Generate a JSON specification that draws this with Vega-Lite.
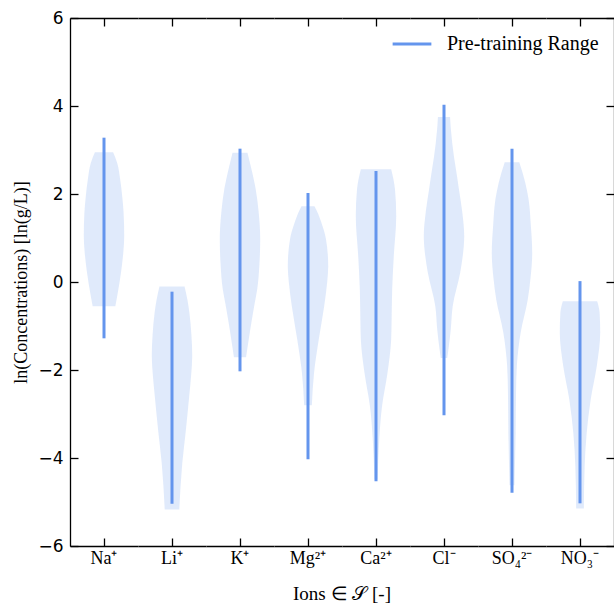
{
  "$schema": "https://vega.github.io/schema/vega-lite/v6.json",
  "padding": {"left": 12, "top": 9, "right": 0, "bottom": 0},
  "background": "white",
  "data": {"values": [
    {"ion": "Na⁺", "v": -0.55, "w": 0.56}, {"ion": "Na⁺", "v": -0.3, "w": 0.66}, {"ion": "Na⁺", "v": 0.28, "w": 0.86}, {"ion": "Na⁺", "v": 0.7, "w": 0.96}, {"ion": "Na⁺", "v": 1.04, "w": 1.0}, {"ion": "Na⁺", "v": 1.57, "w": 0.97}, {"ion": "Na⁺", "v": 1.95, "w": 0.9}, {"ion": "Na⁺", "v": 2.33, "w": 0.8}, {"ion": "Na⁺", "v": 2.71, "w": 0.65}, {"ion": "Na⁺", "v": 2.95, "w": 0.45},
    {"ion": "Li⁺", "v": -5.17, "w": 0.36}, {"ion": "Li⁺", "v": -4.11, "w": 0.51}, {"ion": "Li⁺", "v": -3.35, "w": 0.69}, {"ion": "Li⁺", "v": -2.6, "w": 0.85}, {"ion": "Li⁺", "v": -2.1, "w": 0.95}, {"ion": "Li⁺", "v": -1.69, "w": 1.0}, {"ion": "Li⁺", "v": -1.2, "w": 0.96}, {"ion": "Li⁺", "v": -0.7, "w": 0.86}, {"ion": "Li⁺", "v": -0.4, "w": 0.76}, {"ion": "Li⁺", "v": -0.1, "w": 0.62},
    {"ion": "K⁺", "v": -1.71, "w": 0.3}, {"ion": "K⁺", "v": -1.31, "w": 0.43}, {"ion": "K⁺", "v": -0.93, "w": 0.56}, {"ion": "K⁺", "v": -0.5, "w": 0.72}, {"ion": "K⁺", "v": -0.17, "w": 0.85}, {"ion": "K⁺", "v": 0.4, "w": 0.96}, {"ion": "K⁺", "v": 0.97, "w": 1.0}, {"ion": "K⁺", "v": 1.6, "w": 0.92}, {"ion": "K⁺", "v": 2.1, "w": 0.78}, {"ion": "K⁺", "v": 2.5, "w": 0.6}, {"ion": "K⁺", "v": 2.94, "w": 0.37},
    {"ion": "Mg²⁺", "v": -2.8, "w": 0.19}, {"ion": "Mg²⁺", "v": -2.06, "w": 0.3}, {"ion": "Mg²⁺", "v": -1.31, "w": 0.53}, {"ion": "Mg²⁺", "v": -0.55, "w": 0.8}, {"ion": "Mg²⁺", "v": 0.0, "w": 0.95}, {"ion": "Mg²⁺", "v": 0.36, "w": 1.0}, {"ion": "Mg²⁺", "v": 0.97, "w": 0.89}, {"ion": "Mg²⁺", "v": 1.35, "w": 0.66}, {"ion": "Mg²⁺", "v": 1.55, "w": 0.5}, {"ion": "Mg²⁺", "v": 1.72, "w": 0.32},
    {"ion": "Ca²⁺", "v": -4.49, "w": 0.08}, {"ion": "Ca²⁺", "v": -3.58, "w": 0.16}, {"ion": "Ca²⁺", "v": -2.82, "w": 0.3}, {"ion": "Ca²⁺", "v": -2.06, "w": 0.57}, {"ion": "Ca²⁺", "v": -1.31, "w": 0.75}, {"ion": "Ca²⁺", "v": -0.93, "w": 0.77}, {"ion": "Ca²⁺", "v": -0.17, "w": 0.8}, {"ion": "Ca²⁺", "v": 0.59, "w": 0.88}, {"ion": "Ca²⁺", "v": 1.5, "w": 1.0}, {"ion": "Ca²⁺", "v": 2.1, "w": 0.94}, {"ion": "Ca²⁺", "v": 2.56, "w": 0.75},
    {"ion": "Cl⁻", "v": -1.73, "w": 0.16}, {"ion": "Cl⁻", "v": -1.53, "w": 0.22}, {"ion": "Cl⁻", "v": -1.1, "w": 0.33}, {"ion": "Cl⁻", "v": -0.55, "w": 0.43}, {"ion": "Cl⁻", "v": 0.21, "w": 0.8}, {"ion": "Cl⁻", "v": 0.6, "w": 0.93}, {"ion": "Cl⁻", "v": 1.04, "w": 1.0}, {"ion": "Cl⁻", "v": 1.6, "w": 0.9}, {"ion": "Cl⁻", "v": 2.1, "w": 0.74}, {"ion": "Cl⁻", "v": 2.48, "w": 0.62}, {"ion": "Cl⁻", "v": 2.86, "w": 0.49}, {"ion": "Cl⁻", "v": 3.47, "w": 0.34}, {"ion": "Cl⁻", "v": 3.75, "w": 0.3},
    {"ion": "SO₄²⁻", "v": -4.62, "w": 0.12}, {"ion": "SO₄²⁻", "v": -3.43, "w": 0.18}, {"ion": "SO₄²⁻", "v": -2.5, "w": 0.2}, {"ion": "SO₄²⁻", "v": -1.91, "w": 0.24}, {"ion": "SO₄²⁻", "v": -1.15, "w": 0.43}, {"ion": "SO₄²⁻", "v": -0.4, "w": 0.78}, {"ion": "SO₄²⁻", "v": 0.1, "w": 0.92}, {"ion": "SO₄²⁻", "v": 0.66, "w": 1.0}, {"ion": "SO₄²⁻", "v": 1.3, "w": 0.93}, {"ion": "SO₄²⁻", "v": 1.88, "w": 0.82}, {"ion": "SO₄²⁻", "v": 2.25, "w": 0.66}, {"ion": "SO₄²⁻", "v": 2.72, "w": 0.36},
    {"ion": "NO₃⁻", "v": -5.15, "w": 0.19}, {"ion": "NO₃⁻", "v": -4.19, "w": 0.23}, {"ion": "NO₃⁻", "v": -3.43, "w": 0.33}, {"ion": "NO₃⁻", "v": -2.67, "w": 0.53}, {"ion": "NO₃⁻", "v": -1.91, "w": 0.83}, {"ion": "NO₃⁻", "v": -1.15, "w": 1.0}, {"ion": "NO₃⁻", "v": -0.7, "w": 0.97}, {"ion": "NO₃⁻", "v": -0.44, "w": 0.85},
    {"ion": "Na⁺", "lo": -1.28, "hi": 3.28},
    {"ion": "Li⁺", "lo": -5.04, "hi": -0.22},
    {"ion": "K⁺", "lo": -2.03, "hi": 3.03},
    {"ion": "Mg²⁺", "lo": -4.03, "hi": 2.02},
    {"ion": "Ca²⁺", "lo": -4.53, "hi": 2.52},
    {"ion": "Cl⁻", "lo": -3.03, "hi": 4.03},
    {"ion": "SO₄²⁻", "lo": -4.79, "hi": 3.03},
    {"ion": "NO₃⁻", "lo": -5.03, "hi": 0.02}
  ]},
  "facet": {
    "column": {
      "field": "ion", "type": "nominal",
      "sort": ["Na⁺", "Li⁺", "K⁺", "Mg²⁺", "Ca²⁺", "Cl⁻", "SO₄²⁻", "NO₃⁻"],
      "title": "Ions ∈ 𝒮 [-]",
      "header": {
        "labelOrient": "bottom", "titleOrient": "bottom",
        "labelFont": "Liberation Serif", "labelFontSize": 18, "labelColor": "black", "labelPadding": 3,
        "titleFont": "Liberation Serif", "titleFontSize": 19, "titleFontWeight": "normal", "titleColor": "black", "titlePadding": 7
      }
    }
  },
  "spacing": 0,
  "spec": {
    "width": 68,
    "height": 528,
    "layer": [
      {
        "transform": [{"filter": "isValid(datum.w)"}],
        "mark": {"type": "area", "orient": "horizontal", "fill": "#6495ED", "fillOpacity": 0.2, "interpolate": "monotone"},
        "encoding": {
          "y": {"field": "v", "type": "quantitative", "stack": null,
                "scale": {"domain": [-6, 6], "nice": false, "zero": false},
                "axis": {"orient": "left", "offset": -8, "domain": false, "values": [-6, -4, -2, 0, 2, 4, 6], "grid": false,
                         "tickSize": 8, "tickColor": "black", "tickWidth": 1.3,
                         "labelFont": "DejaVu Sans", "labelFontSize": 17, "labelColor": "black", "labelPadding": 7,
                         "title": "ln(Concentrations) [ln(g/L)]", "titleFont": "Liberation Serif", "titleFontSize": 18,
                         "titleFontWeight": "normal", "titleColor": "black", "titlePadding": 7}},
          "x": {"field": "w", "type": "quantitative", "stack": "center",
                "scale": {"domain": [-0.341, 1.341], "nice": false, "zero": false},
                "axis": {"orient": "bottom", "offset": -8, "domain": false, "values": [0.5], "labels": false, "title": null, "grid": false,
                         "tickSize": 8, "tickColor": "black", "tickWidth": 1.3}}
        }
      },
      {
        "transform": [{"filter": "isValid(datum.lo)"}],
        "mark": {"type": "rule", "strokeWidth": 3},
        "encoding": {
          "y": {"field": "lo", "type": "quantitative",
                "axis": {"orient": "right", "offset": -8, "domain": false, "values": [-6, -4, -2, 0, 2, 4, 6], "labels": false, "title": null, "grid": false,
                         "tickSize": 8, "tickColor": "black", "tickWidth": 1.3}},
          "y2": {"field": "hi"},
          "x": {"datum": 0.5,
                "axis": {"orient": "top", "offset": -8, "domain": false, "values": [0.5], "labels": false, "title": null, "grid": false,
                         "tickSize": 8, "tickColor": "black", "tickWidth": 1.3}},
          "color": {"datum": "Pre-training Range", "type": "nominal",
                    "scale": {"range": ["#6495ED"]},
                    "legend": {"title": null, "orient": "none", "legendX": 321, "legendY": 5,
                               "symbolType": "stroke", "symbolStrokeWidth": 3, "symbolSize": 1500,
                               "labelFont": "Liberation Serif", "labelFontSize": 20, "labelColor": "black", "labelOffset": 14}}
        }
      },
      {
        "transform": [{"filter": "isValid(datum.lo)"}],
        "mark": {"type": "rule", "strokeOpacity": 0},
        "encoding": {
          "y": {"field": "lo", "type": "quantitative",
                "axis": {"orient": "left", "ticks": false, "labels": false, "title": null, "grid": false,
                         "domainColor": "black", "domainWidth": 1.3}},
          "y2": {"field": "hi"},
          "x": {"datum": 0.5,
                "axis": {"orient": "bottom", "ticks": false, "labels": false, "title": null, "grid": false,
                         "domainColor": "black", "domainWidth": 1.3}}
        }
      },
      {
        "transform": [{"filter": "isValid(datum.lo)"}],
        "mark": {"type": "rule", "strokeOpacity": 0},
        "encoding": {
          "y": {"field": "lo", "type": "quantitative",
                "axis": {"orient": "right", "ticks": false, "labels": false, "title": null, "grid": false,
                         "domainColor": "black", "domainWidth": 1.3}},
          "y2": {"field": "hi"},
          "x": {"datum": 0.5,
                "axis": {"orient": "top", "ticks": false, "labels": false, "title": null, "grid": false,
                         "domainColor": "black", "domainWidth": 1.3}}
        }
      }
    ],
    "resolve": {"axis": {"x": "independent", "y": "independent"}}
  },
  "config": {"view": {"stroke": null}}
}
